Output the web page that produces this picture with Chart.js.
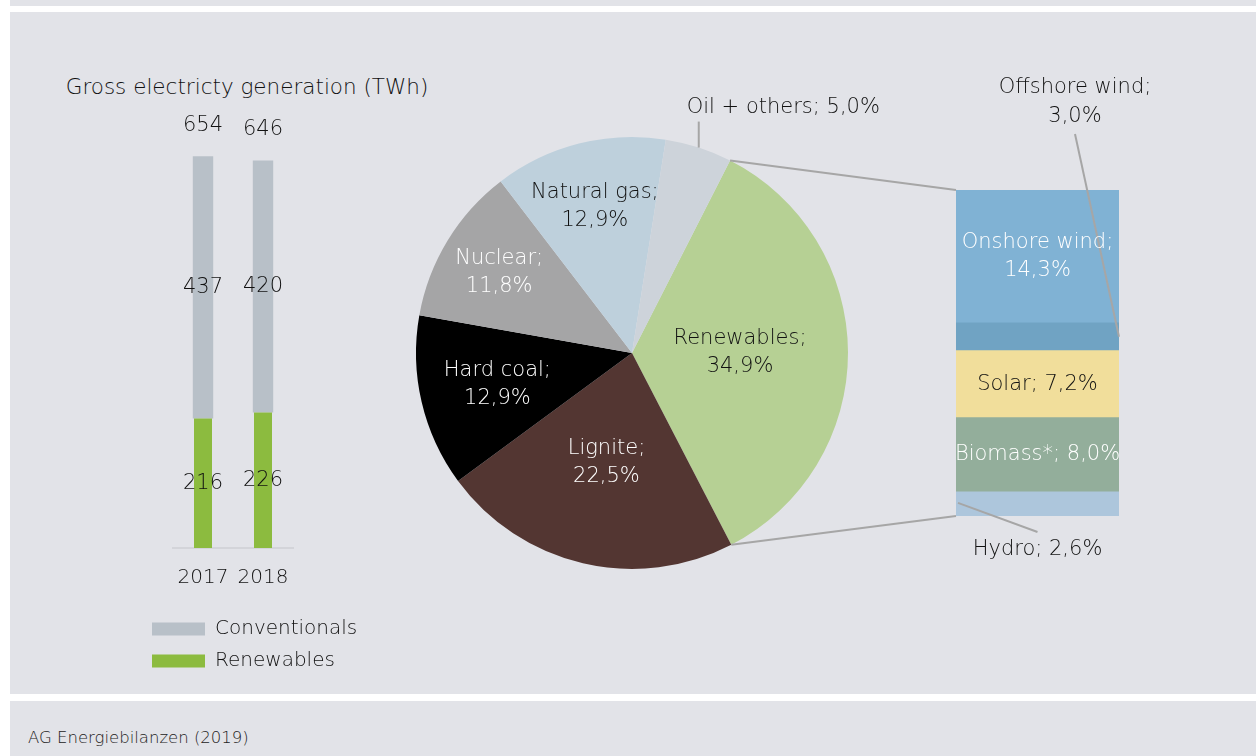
<!DOCTYPE html>
<html>
<head>
<meta charset="utf-8">
<script src="https://cdn.jsdelivr.net/npm/chart.js@4.4.0/dist/chart.umd.min.js"></script>
<style>
  body { margin: 0; background: #fff; width: 1256px; height: 756px; position: relative; overflow: hidden; font-family: 'DejaVu Sans', sans-serif; font-weight: 200; }
  .panel { position: absolute; background: #e2e3e8; }
  canvas { position: absolute; }
  #titulo { position: absolute; left: 0; width: 494px; top: 74px; text-align: center; font-size: 21.5px; color: #111; white-space: nowrap; }
  #fuente { position: absolute; left: 28px; top: 728px; font-size: 16.5px; color: #222; }
</style>
</head>
<body>
<div class="panel" style="left:10px; top:0; width:1246px; height:6px;"></div>
<div class="panel" style="left:10px; top:12px; width:1246px; height:682px;"></div>
<div class="panel" style="left:10px; top:701px; width:1246px; height:55px;"></div>
<div id="titulo">Gross electricty generation (TWh)</div>
<div id="fuente">AG Energiebilanzen (2019)</div>

<canvas id="barras" width="262" height="581" style="left:140px; top:100px;"></canvas>
<canvas id="tarta" width="600" height="520" style="left:372px; top:93px;"></canvas>
<canvas id="renovables" width="316" height="520" style="left:940px; top:60px;"></canvas>
<canvas id="lineas" width="1256" height="756" style="left:0; top:0; pointer-events:none;"></canvas>

<script>
// datos
const years = ['2017', '2018'];
const renewablesTWh = [216, 226];
const conventionalsTWh = [437, 420];
const totalTWh = [654, 646];

const mixLabels = ['Renewables', 'Lignite', 'Hard coal', 'Nuclear', 'Natural gas', 'Oil + others'];
const mixShares = [34.9, 22.5, 12.9, 11.8, 12.9, 5.0];

const renLabels = ['Hydro', 'Biomass*', 'Solar', 'Offshore wind', 'Onshore wind'];
const renShares = [2.6, 8.0, 7.2, 3.0, 14.3];

// estilos
const FONT = "'DejaVu Sans', sans-serif";
const TXT = '200 21px ' + FONT;
const DARK = '#111';
const mixColors = ['#b6d094', '#533632', '#000000', '#a5a5a6', '#bed0dc', '#cdd3da'];
const mixTextColors = [DARK, '#fff', '#fff', '#fff', DARK, DARK];
const mixLabelRadius = [0.5, 0.52, 0.64, 0.72, 0.7, null];
const renColors = ['#adc6dc', '#93ae9b', '#f1de9b', '#70a3c3', '#80b2d4'];
const renTextColors = [DARK, '#fff', DARK, DARK, '#fff'];

const pct = v => v.toFixed(1).replace('.', ',') + '%';
const hidden = w => ({
    min: 0, max: 700,
    ticks: { display: false }, grid: { display: false }, border: { display: false },
    afterFit: s => { s.width = w; }
});

// ---- barras 2017 / 2018
const barLabels = {
    id: 'barLabels',
    afterDatasetsDraw(chart) {
        const ctx = chart.ctx;
        ctx.save();
        ctx.font = TXT;
        ctx.fillStyle = DARK;
        ctx.textAlign = 'center';
        ctx.textBaseline = 'middle';
        chart.data.datasets.forEach((ds, i) => {
            chart.getDatasetMeta(i).data.forEach((bar, j) => {
                ctx.fillText(ds.data[j], bar.x, (bar.y + bar.base) / 2);
            });
        });
        chart.getDatasetMeta(1).data.forEach((bar, j) => {
            ctx.fillText(totalTWh[j], bar.x, bar.y - 31);
        });
        ctx.restore();
    }
};

const chartBarras = new Chart(document.getElementById('barras'), {
    type: 'bar',
    data: {
        labels: years,
        datasets: [
            { label: 'Renewables', data: renewablesTWh, backgroundColor: '#8cbb3f', barPercentage: 0.3, categoryPercentage: 1 },
            { label: 'Conventionals', data: conventionalsTWh, backgroundColor: '#b8c0c8', barPercentage: 0.34, categoryPercentage: 1 }
        ]
    },
    options: {
        responsive: false,
        animation: false,
        layout: { padding: { top: 28 } },
        scales: {
            x: {
                stacked: true,
                grid: { display: false },
                border: { display: true, color: '#d3d4d9', width: 2 },
                ticks: { color: DARK, font: { family: FONT, size: 20, weight: 200 }, padding: 10 },
                afterFit: s => { s.height = 59; }
            },
            y: Object.assign({ stacked: true }, hidden(33)),
            y2: Object.assign({ position: 'right' }, hidden(109))
        },
        plugins: {
            legend: {
                position: 'bottom',
                align: 'start',
                reverse: true,
                labels: { boxWidth: 53, boxHeight: 13, padding: 12, color: DARK, font: { family: FONT, size: 20, weight: 200 } }
            },
            tooltip: { enabled: false }
        }
    },
    plugins: [barLabels]
});

// ---- tarta
const pieLabels = {
    id: 'pieLabels',
    afterDatasetsDraw(chart) {
        const ctx = chart.ctx;
        ctx.save();
        ctx.font = TXT;
        ctx.textBaseline = 'middle';
        chart.getDatasetMeta(0).data.forEach((arc, i) => {
            const p = arc.getProps(['x', 'y', 'startAngle', 'endAngle', 'outerRadius'], true);
            const mid = (p.startAngle + p.endAngle) / 2;
            ctx.fillStyle = mixTextColors[i];
            if (mixLabelRadius[i] === null) {
                const ex = p.x + Math.cos(mid) * p.outerRadius;
                const ey = p.y + Math.sin(mid) * p.outerRadius;
                ctx.strokeStyle = '#a6a6a6';
                ctx.lineWidth = 2;
                ctx.beginPath();
                ctx.moveTo(ex, ey);
                ctx.lineTo(ex, ey - 26);
                ctx.stroke();
                ctx.textAlign = 'left';
                ctx.fillText(mixLabels[i] + '; ' + pct(mixShares[i]), ex - 12, ey - 40);
                return;
            }
            const r = p.outerRadius * mixLabelRadius[i];
            const cx = p.x + Math.cos(mid) * r;
            const cy = p.y + Math.sin(mid) * r;
            ctx.textAlign = 'center';
            ctx.fillText(mixLabels[i] + ';', cx, cy - 14);
            ctx.fillText(pct(mixShares[i]), cx, cy + 14);
        });
        ctx.restore();
    }
};

const chartTarta = new Chart(document.getElementById('tarta'), {
    type: 'pie',
    data: {
        labels: mixLabels,
        datasets: [{ data: mixShares, backgroundColor: mixColors, borderWidth: 0 }]
    },
    options: {
        responsive: false,
        animation: false,
        rotation: 27,
        layout: { padding: { left: 44, right: 124, top: 44, bottom: 44 } },
        plugins: { legend: { display: false }, tooltip: { enabled: false } }
    },
    plugins: [pieLabels]
});

// ---- desglose renovables
const renLabelsPlugin = {
    id: 'renLabels',
    afterDatasetsDraw(chart) {
        const ctx = chart.ctx;
        ctx.save();
        ctx.font = TXT;
        ctx.textBaseline = 'middle';
        ctx.textAlign = 'center';
        ctx.strokeStyle = '#a6a6a6';
        ctx.lineWidth = 2;
        renLabels.forEach((name, i) => {
            const bar = chart.getDatasetMeta(i).data[0];
            const left = bar.x - bar.width / 2, right = bar.x + bar.width / 2;
            const mid = (bar.y + bar.base) / 2;
            ctx.fillStyle = renTextColors[i];
            if (name === 'Hydro') {
                ctx.beginPath();
                ctx.moveTo(left + 2, mid - 1);
                ctx.lineTo(bar.x, bar.base + 16);
                ctx.stroke();
                ctx.fillText(name + '; ' + pct(renShares[i]), bar.x, bar.base + 34);
            } else if (name === 'Offshore wind') {
                const top = chart.chartArea.top;
                const lx = right - 44;
                ctx.beginPath();
                ctx.moveTo(lx, top - 56);
                ctx.lineTo(right, mid);
                ctx.stroke();
                ctx.fillText(name + ';', lx, top - 102);
                ctx.fillText(pct(renShares[i]), lx, top - 73);
            } else if (name === 'Onshore wind') {
                ctx.fillText(name + ';', bar.x, mid - 14);
                ctx.fillText(pct(renShares[i]), bar.x, mid + 14);
            } else {
                ctx.fillText(name + '; ' + pct(renShares[i]), bar.x, mid);
            }
        });
        ctx.restore();
    }
};

const chartRen = new Chart(document.getElementById('renovables'), {
    type: 'bar',
    data: {
        labels: ['Renewables'],
        datasets: renLabels.map((name, i) => ({
            label: name,
            data: [renShares[i]],
            backgroundColor: renColors[i],
            barPercentage: 1,
            categoryPercentage: 1
        }))
    },
    options: {
        responsive: false,
        animation: false,
        layout: { padding: { left: 16, right: 137, top: 130, bottom: 64 } },
        scales: {
            x: { stacked: true, display: false },
            y: { stacked: true, display: false, min: 0, max: renShares.reduce((a, b) => a + b, 0) }
        },
        plugins: { legend: { display: false }, tooltip: { enabled: false } }
    },
    plugins: [renLabelsPlugin]
});

// lineas de union tarta -> barra
const lineas = document.getElementById('lineas').getContext('2d');
const arcRen = chartTarta.getDatasetMeta(0).data[0];
const tOff = chartTarta.canvas.getBoundingClientRect();
const rOff = chartRen.canvas.getBoundingClientRect();
const topBar = chartRen.getDatasetMeta(renLabels.length - 1).data[0];
const bottomBar = chartRen.getDatasetMeta(0).data[0];
const barLeft = rOff.left + topBar.x - topBar.width / 2;
lineas.strokeStyle = '#a6a6a6';
lineas.lineWidth = 2;
[[arcRen.startAngle, rOff.top + topBar.y], [arcRen.endAngle, rOff.top + bottomBar.base]].forEach(([ang, by]) => {
    lineas.beginPath();
    lineas.moveTo(tOff.left + arcRen.x + Math.cos(ang) * arcRen.outerRadius, tOff.top + arcRen.y + Math.sin(ang) * arcRen.outerRadius);
    lineas.lineTo(barLeft, by);
    lineas.stroke();
});
</script>
</body>
</html>
